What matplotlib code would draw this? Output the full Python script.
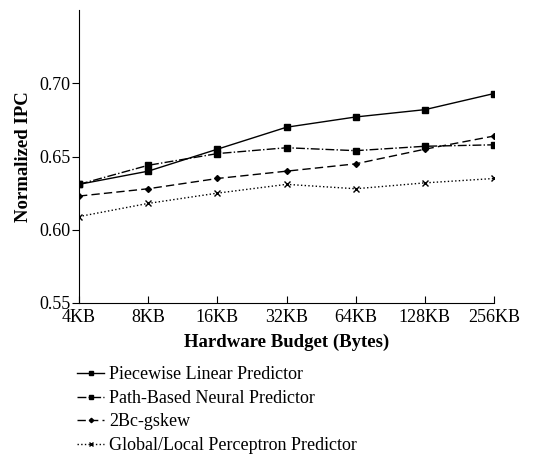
import matplotlib
matplotlib.use("Agg")
import matplotlib.pyplot as plt

plt.rcParams["font.family"] = ["Liberation Serif", "DejaVu Serif"]
plt.rcParams["font.size"] = 13

# Data
budgets = ["4KB", "8KB", "16KB", "32KB", "64KB", "128KB", "256KB"]
piecewise = [0.631, 0.640, 0.655, 0.670, 0.677, 0.682, 0.693]
path_based = [0.631, 0.644, 0.652, 0.656, 0.654, 0.657, 0.658]
gskew = [0.623, 0.628, 0.635, 0.640, 0.645, 0.655, 0.664]
perceptron = [0.609, 0.618, 0.625, 0.631, 0.628, 0.632, 0.635]

labels = ["Piecewise Linear Predictor", "Path-Based Neural Predictor",
          "2Bc-gskew", "Global/Local Perceptron Predictor"]

fig = plt.figure(figsize=(5.58, 4.57), dpi=100)
ax = fig.add_axes([0.1416, 0.337, 0.7437, 0.641])

x = list(range(len(budgets)))
ax.plot(x, piecewise, color="black", linestyle="-", linewidth=1,
        marker="s", markersize=4.5, label=labels[0])
ax.plot(x, path_based, color="black", linestyle="-.", linewidth=1,
        marker="s", markersize=4.5, label=labels[1])
ax.plot(x, gskew, color="black", linestyle=(0, (6, 3)), linewidth=1,
        marker="D", markersize=3, label=labels[2])
ax.plot(x, perceptron, color="black", linestyle=":", linewidth=1,
        marker="x", markersize=4, markeredgewidth=1, label=labels[3])

ax.set_xlim(0, len(budgets) - 1)
ax.set_ylim(0.55, 0.75)
ax.set_xticks(x)
ax.set_xticklabels(budgets)
ax.set_yticks([0.55, 0.60, 0.65, 0.70])
ax.set_yticklabels(["0.55", "0.60", "0.65", "0.70"])
ax.tick_params(axis="x", direction="in", length=5, pad=4)
ax.tick_params(axis="y", direction="out", length=5, pad=1)

ax.spines["top"].set_visible(False)
ax.spines["right"].set_visible(False)

ax.set_xlabel("Hardware Budget (Bytes)", fontweight="bold", fontsize=13.5, labelpad=6)
ax.set_ylabel("Normalized IPC", fontweight="bold", fontsize=13.5, labelpad=5)

fig.legend(loc="upper left", bbox_to_anchor=(0.125, 0.214), frameon=False,
           handlelength=1.5, handletextpad=0.3, labelspacing=0.36,
           borderaxespad=0, fontsize=13, markerscale=0.75)

fig.savefig("out.png", dpi=100)
